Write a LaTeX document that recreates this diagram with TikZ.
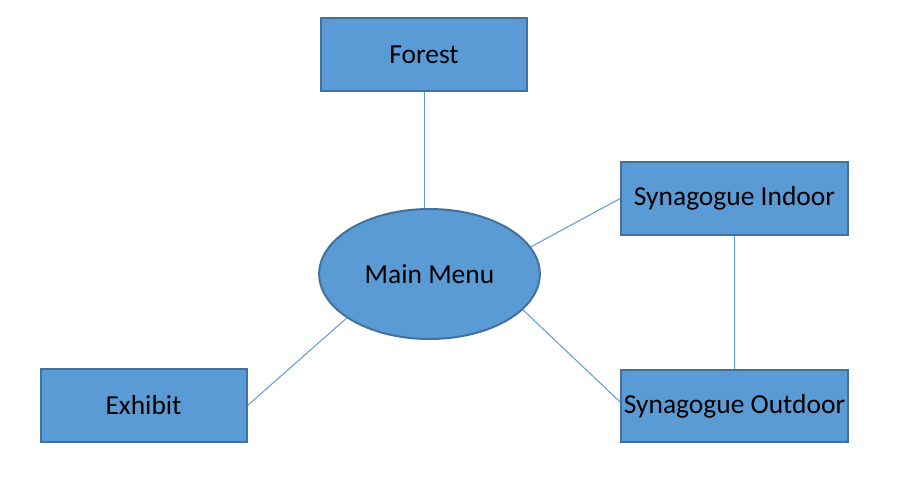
\documentclass[tikz,border=0pt]{standalone}
\usepackage{fontspec}
\setmainfont{Carlito}
\usetikzlibrary{shapes.geometric}
\definecolor{boxblue}{HTML}{5B9BD5}
\definecolor{edgeblue}{HTML}{41719C}

\begin{document}
\begin{tikzpicture}[x=0.75pt, y=-0.75pt,
   box/.style={draw=edgeblue, fill=boxblue, line width=1.5pt, inner sep=0pt,
     minimum width=154.5pt, minimum height=54.5pt, font=\fontsize{20.6}{24}\selectfont},
   hub/.style={ellipse, draw=edgeblue, fill=boxblue, line width=1.5pt, inner sep=0pt,
     minimum width=165.5pt, minimum height=97.5pt, font=\fontsize{20.6}{24}\selectfont},
   link/.style={draw=boxblue, line width=0.75pt}
   ]
   \useasboundingbox (0,0) rectangle (901,486);

   \path (424,54.5) node[box] (forest) {Forest}
   (429.5,274) node[hub] (menu) {Main Menu};
   \path (734.5,198.5) node[box, minimum width=170pt] (indoor) {Synagogue Indoor}
   (734.5,406) node[box, minimum width=170pt] (outdoor) {Synagogue Outdoor};
   \path (143.5,405.5) node[box] (exhibit) {Exhibit};

   \draw[link] (forest.south) -- (forest.south |- menu.north);
   \draw[link] (indoor.west) -- (menu.15);
   \draw[link] (indoor) -- (outdoor);
   \draw[link] ([yshift=3pt]outdoor.west) -- (menu.-21);
   \draw[link] (exhibit.east) -- (menu.208);

\end{tikzpicture}
\end{document}
